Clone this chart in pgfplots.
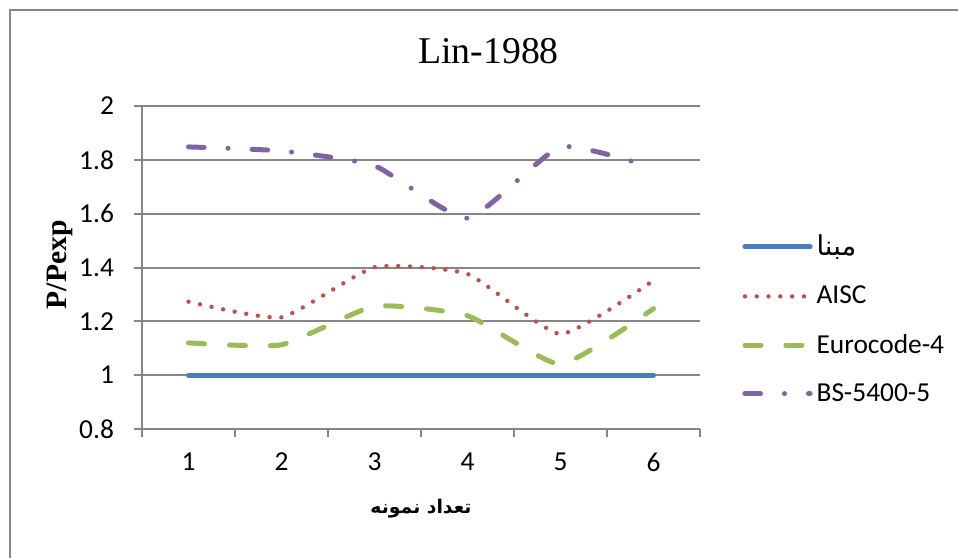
\documentclass[border=0pt]{standalone}
\usepackage{fontspec}
\setmainfont{Liberation Serif}
\newfontfamily\calibri{Carlito}
\newfontfamily\arabicfont[Script=Arabic]{DejaVu Sans}
\usepackage{pgfplots}
\pgfplotsset{compat=1.18}
\TeXXeTstate=1

\definecolor{gridgray}{HTML}{868686}
\definecolor{cblue}{HTML}{4A7EBB}
\definecolor{cred}{HTML}{C0504D}
\definecolor{cgreen}{HTML}{9BBB59}
\definecolor{cpurple}{HTML}{8064A2}

\begin{document}
\begin{tikzpicture}
\useasboundingbox (-71pt,-64pt) rectangle (408pt,214.5pt);
% chart frame (only left and top edges visible)
\draw[gridgray, line width=1pt] (-66pt,-70pt) -- (-66pt,209.25pt) -- (420pt,209.25pt);
\begin{axis}[
  scale only axis, width=279pt, height=161.5pt,
  xmin=0.5, xmax=6.5, ymin=0.8, ymax=2,
  xtick={0.5,1.5,...,6.5}, x tick label as interval,
  xticklabels={1,2,3,4,5,6},
  ytick={0.8,1,1.2,1.4,1.6,1.8,2},
  axis x line*=bottom, axis y line*=left,
  ymajorgrids, grid style={gridgray, line width=1pt},
  axis line style={gridgray, line width=1pt},
  tick align=outside, major tick length=4pt,
  tick style={gridgray, line width=1pt},
  /pgf/number format/assume math mode=true,
  tick label style={font=\calibri\fontsize{13.7}{16}\selectfont, black},
  xticklabel style={yshift=-4.5pt},
  yticklabel style={xshift=-6.5pt},
  title={Lin-1988},
  title style={font=\fontsize{18.9}{22}\selectfont, at={(axis description cs:0.621,1.093)}, anchor=base},
  ylabel={P/Pexp},
  ylabel style={font=\bfseries\fontsize{14.8}{17}\selectfont, at={(axis description cs:-0.147,0.508)}, anchor=center},
  xlabel={{\arabicfont\bfseries\beginR تعداد نمونه\endR}},
  xlabel style={font=\fontsize{9.4}{12}\selectfont, at={(axis description cs:0.5,-0.246)}, anchor=center},
  legend style={draw=none, fill=none, at={(axis description cs:1.0753,0.339)}, anchor=west,
    inner sep=0pt, row sep=9.6pt, font=\calibri\fontsize{13.7}{16}\selectfont},
  legend cell align=left,
  legend image code/.code={\draw[#1] (1.2pt,0pt) -- (33.8pt,0pt);},
  every axis plot/.append style={line cap=round, smooth, tension=0.3},
]
\addplot[cblue, line width=2.5pt] coordinates {(1,1) (2,1) (3,1) (4,1) (5,1) (6,1)};
\addlegendentry{{\arabicfont\beginR مبنا\endR}}
\addplot[cred, line width=2.2pt, dash pattern=on 0pt off 5.9pt] coordinates {(1,1.273) (2,1.215) (3,1.401) (4,1.376) (5,1.153) (6,1.352)};
\addlegendentry{AISC}
\addplot[cgreen, line width=2.5pt, dash pattern=on 8pt off 12.5pt] coordinates {(1,1.12) (2,1.113) (3,1.256) (4,1.221) (5,1.041) (6,1.247)};
\addlegendentry{Eurocode-4}
\addplot[cpurple, line width=2.5pt, dash pattern=on 7.8pt off 12pt on 0pt off 12pt] coordinates {(1,1.848) (2,1.833) (3,1.778) (4,1.583) (5,1.848) (6,1.77)};
\addlegendentry{BS-5400-5}
\end{axis}
\end{tikzpicture}
\end{document}
